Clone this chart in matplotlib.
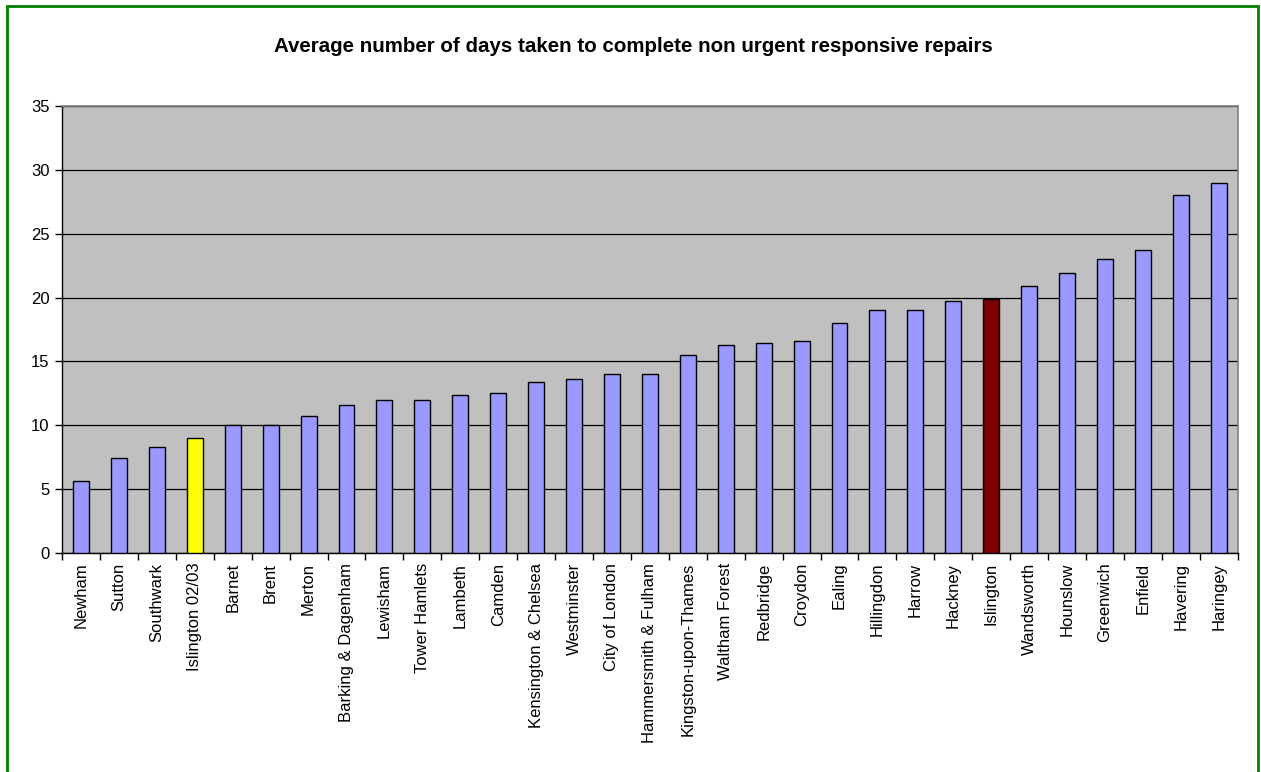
import matplotlib.pyplot as plt
from matplotlib.patches import Rectangle

boroughs = [
    "Newham", "Sutton", "Southwark", "Islington 02/03", "Barnet", "Brent",
    "Merton", "Barking & Dagenham", "Lewisham", "Tower Hamlets", "Lambeth",
    "Camden", "Kensington & Chelsea", "Westminster", "City of London",
    "Hammersmith & Fulham", "Kingston-upon-Thames", "Waltham Forest",
    "Redbridge", "Croydon", "Ealing", "Hillingdon", "Harrow", "Hackney",
    "Islington", "Wandsworth", "Hounslow", "Greenwich", "Enfield",
    "Havering", "Haringey",
]
days = [
    5.6, 7.4, 8.3, 9.0, 10.0, 10.0, 10.75, 11.55, 12.0, 12.0, 12.4,
    12.5, 13.4, 13.6, 14.0, 14.0, 15.5, 16.3, 16.45, 16.6, 18.0, 19.0,
    19.0, 19.75, 19.85, 20.9, 21.95, 23.0, 23.7, 28.0, 29.0,
]
highlight = {"Islington 02/03": "#FFFF00", "Islington": "#800000"}

plt.rcParams['font.family'] = ['Liberation Sans', 'DejaVu Sans']

fig = plt.figure(figsize=(12.61, 7.72), dpi=100)
ax = fig.add_axes([0.0492, 0.2837, 0.9323, 0.579])

colors = [highlight.get(b, "#9999FF") for b in boroughs]
x = range(len(boroughs))
ax.bar(x, days, width=0.42, color=colors, edgecolor="black", linewidth=1.0, zorder=3)

ax.set_facecolor("#C0C0C0")
ax.set_xlim(-0.5, len(boroughs) - 0.5)
ax.set_ylim(0, 35)
ax.set_yticks(range(0, 36, 5))
ax.yaxis.grid(True, color="black", linewidth=0.9, zorder=1)
ax.set_axisbelow(True)

ax.set_xticks(x)
ax.set_xticklabels(boroughs, rotation=90, fontsize=12)
ax.tick_params(axis="y", labelsize=12, length=5, width=1, pad=4)

# category-boundary ticks instead of centred ones
ax.set_xticks([i - 0.5 for i in range(len(boroughs) + 1)], minor=True)
ax.tick_params(axis="x", which="major", length=0, pad=7)
ax.tick_params(axis="x", which="minor", length=5, width=1)

for side in ("top", "right"):
    ax.spines[side].set_color("#808080")
    ax.spines[side].set_linewidth(1.2)
for side in ("left", "bottom"):
    ax.spines[side].set_color("black")
    ax.spines[side].set_linewidth(1.0)

fig.text(0.5025, 1 - 52 / 772,
         "Average number of days taken to complete non urgent responsive repairs",
         ha="center", va="baseline", fontsize=14.75, fontweight="bold")

border = Rectangle((7 / 1261, -0.05), 1251 / 1261, 1.05 - 6 / 772,
                   transform=fig.transFigure, fill=False,
                   edgecolor="#008000", linewidth=2, clip_on=False)
fig.patches.append(border)

fig.savefig("out.png", dpi=100)
